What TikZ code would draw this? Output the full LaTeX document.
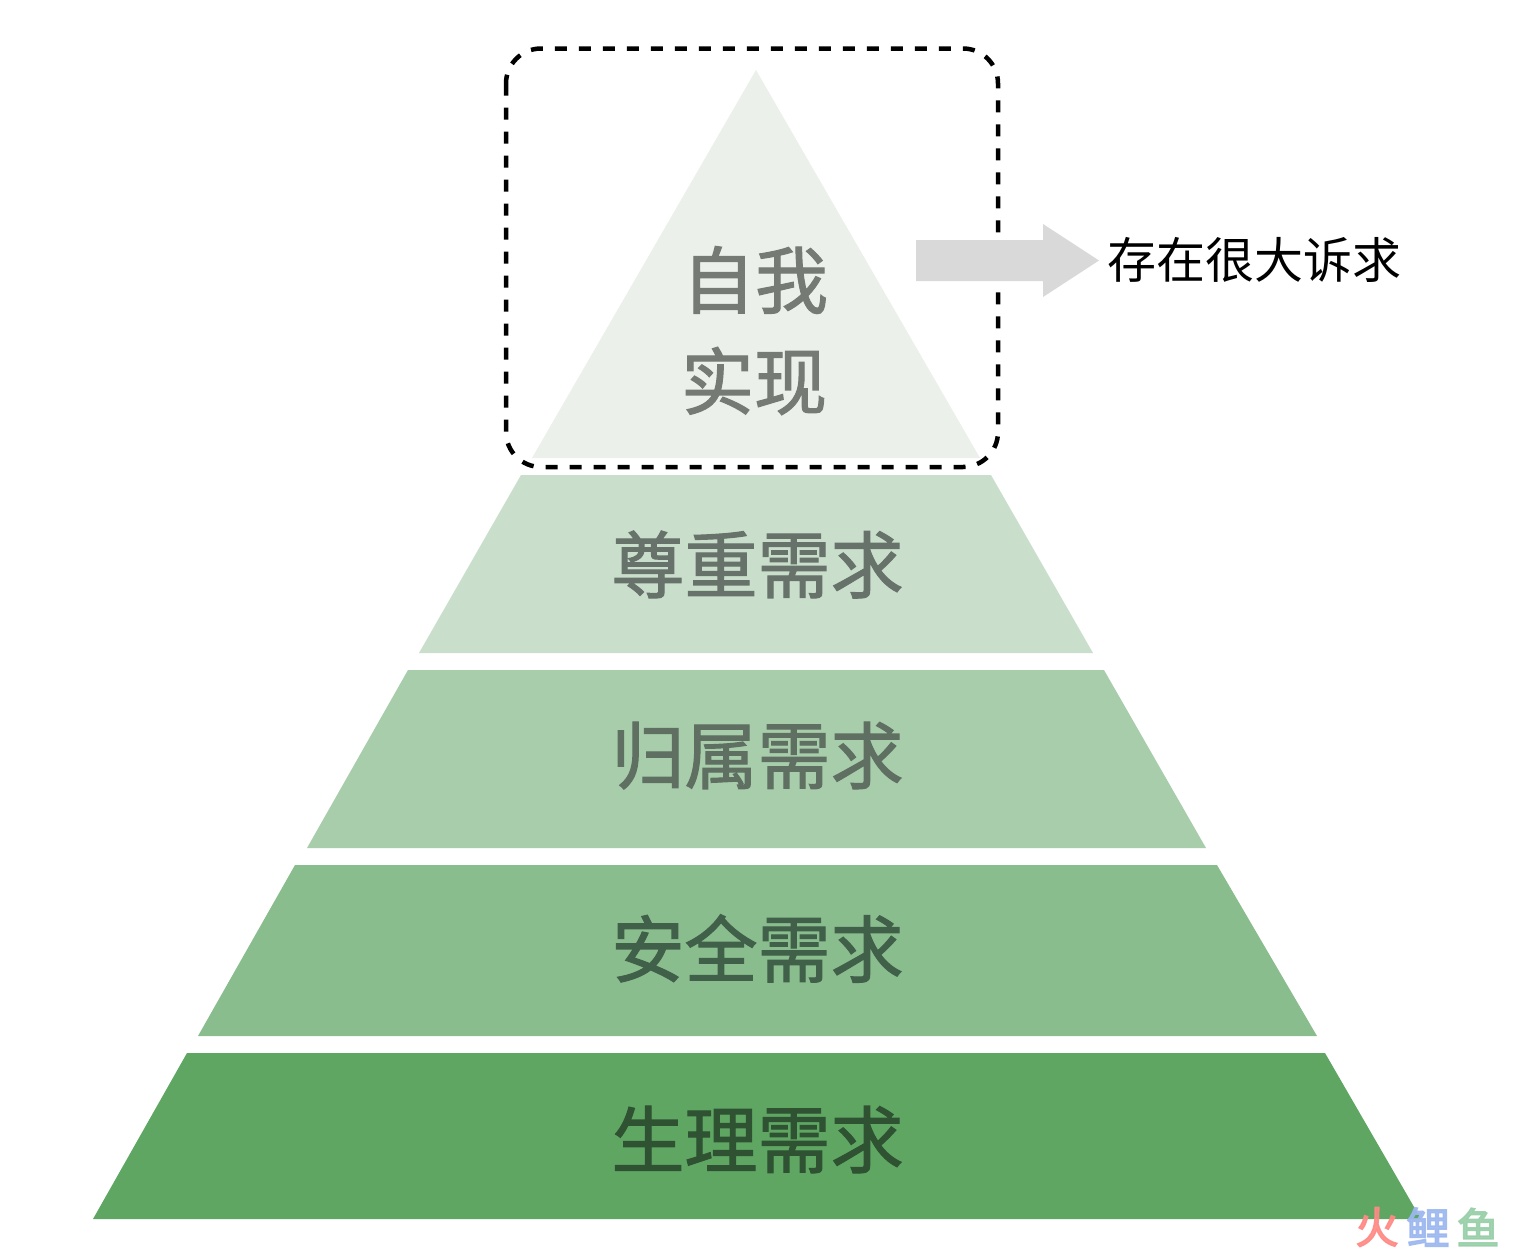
\documentclass[tikz,border=0pt]{standalone}
\usepackage{fontspec}
\setmainfont{Noto Sans CJK SC}
\newfontfamily\cjkmed[FakeBold=1.5]{Noto Sans CJK SC}
\newfontfamily\cjkheavy[FakeBold=3.5]{Noto Sans CJK SC}
\definecolor{tierA}{HTML}{EBF0EA}
\definecolor{tierB}{HTML}{C9DFCB}
\definecolor{tierC}{HTML}{A8CDAB}
\definecolor{tierD}{HTML}{8ABD8D}
\definecolor{tierE}{HTML}{5FA663}
\definecolor{txtA}{HTML}{757A75}
\definecolor{txtB}{HTML}{67736A}
\definecolor{txtC}{HTML}{5F7062}
\definecolor{txtD}{HTML}{41604A}
\definecolor{txtE}{HTML}{2F5233}
\definecolor{wmA}{HTML}{FF8A85}
\definecolor{wmB}{HTML}{9DB8F0}
\definecolor{wmC}{HTML}{98CFA8}
\tikzset{
  tier/.style={draw=none},
  tierlabel/.style={inner sep=0pt,font=\fontsize{73}{73}\selectfont\cjkmed},
  wm/.style={inner sep=0pt,opacity=0.9,font=\fontsize{43}{43}\selectfont\cjkheavy},
}
\begin{document}
\begin{tikzpicture}[x=1pt,y=-1pt]
\useasboundingbox (0,0) rectangle (1524,1250);
\fill[white] (0,0) rectangle (1524,1250);
\fill[tier,tierA] (756,70) -- (980,458) -- (532,458) -- cycle;
\fill[tier,tierB] (521,475) -- (991,475) -- (1093,653) -- (419,653) -- cycle;
\fill[tier,tierC] (408,670) -- (1104,670) -- (1206,848) -- (307,848) -- cycle;
\fill[tier,tierD] (295,865) -- (1217,865) -- (1317,1036) -- (198,1036) -- cycle;
\fill[tier,tierE] (187,1053) -- (1325,1053) -- (1421,1219) -- (93,1219) -- cycle;
\draw[black,line width=4.5pt,dash pattern=on 12pt off 12pt,rounded corners=35pt] (506,48.5) rectangle (998,467);
\fill[black!15] (916,240) -- (1043,240) -- (1043,224) -- (1099,260.5) -- (1043,297) -- (1043,281) -- (916,281) -- cycle;
\node[tierlabel,text=txtA] (t1) at (755,280) {自我};
\node[tierlabel,text=txtA] (t1b) at (754,381) {实现};
\node[tierlabel,text=txtB] (t2) at (757.5,564.5) {尊重需求};
\node[tierlabel,text=txtC] (t3) at (757.5,755.5) {归属需求};
\node[tierlabel,text=txtD] (t4) at (757.5,948.5) {安全需求};
\node[tierlabel,text=txtE] (t5) at (757.5,1139.5) {生理需求};
\node[inner sep=0pt,font=\fontsize{49}{49}\selectfont] (note) at (1254,260) {存在很大诉求};
\node[wm,text=wmA] (w1) at (1377,1227) {火};
\node[wm,text=wmB] (w2) at (1428,1227) {鲤};
\node[wm,text=wmC] (w3) at (1478,1227) {鱼};
\end{tikzpicture}
\end{document}
